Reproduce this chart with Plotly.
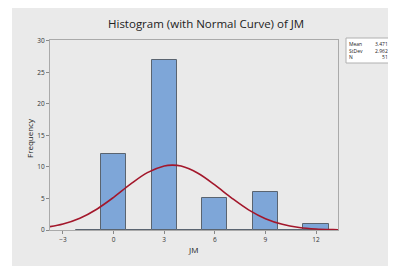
import plotly.graph_objects as go

# Histogram bins (midpoints, width 1.5) and counts
bin_mid = [-1.5, 0, 1.5, 3, 4.5, 6, 7.5, 9, 10.5, 12]
counts = [0, 12, 0, 27, 0, 5, 0, 6, 0, 1]
bin_width = 1.5

# Fitted normal curve
curve_x = [-3.8, -3, -2, -1, 0, 1, 2, 3, 3.5, 4, 5, 6, 7, 8, 9, 10, 11, 12, 13, 13.4]
curve_y = [0.52, 0.95, 1.87, 3.30, 5.18, 7.27, 9.10, 10.17, 10.30, 10.14, 9.01, 7.15,
           5.07, 3.20, 1.80, 0.91, 0.41, 0.16, 0.06, 0.04]

stats_labels = ["Mean", "StDev", "N"]
stats_values = ["3.471", "2.962", "51"]

x_ticks = [-3, 0, 3, 6, 9, 12]
y_ticks = [0, 5, 10, 15, 20, 25, 30]

OFF = 8  # page body margin
W, H = 396 - OFF, 266 - OFF
ML, MT = 50 - OFF, 40 - OFF
PR, PB = 338 - OFF, 230 - OFF
MR, MB = W - PR, H - PB
pw, ph = W - ML - MR, H - MT - MB

def px(x):
    return (x - OFF - ML) / pw

def py(y):
    return (H - MB - (y - OFF)) / ph

FONT = "Open Sans"

fig = go.Figure()
fig.add_trace(go.Bar(
    x=bin_mid, y=counts, width=bin_width,
    marker=dict(color="#7ea6d8", line=dict(color="#5a6470", width=1)),
    hoverinfo="skip",
))
fig.add_trace(go.Scatter(
    x=curve_x, y=curve_y, mode="lines",
    line=dict(color="#a3172b", width=1.6, shape="spline"),
    hoverinfo="skip",
))

shapes = [
    dict(type="rect", xref="paper", yref="paper",
         x0=px(12), x1=px(400), y0=py(270), y1=py(8),
         fillcolor="#eaeaea", line=dict(width=0), layer="below"),
    dict(type="rect", xref="paper", yref="paper",
         x0=px(346), x1=px(391), y0=py(63), y1=py(38),
         fillcolor="white", line=dict(color="#b0b0b0", width=1)),
]

def ann(text, x, y, size, xanchor="center", **kw):
    return dict(text=text, xref="paper", yref="paper", x=px(x), y=py(y),
                xanchor=xanchor, yanchor="middle", showarrow=False,
                font=dict(family=FONT, size=size, color="#222"), **kw)

annotations = [
    ann("Histogram (with Normal Curve) of JM", 206, 24, 11.5),
    ann("JM", 193, 250, 8),
    ann("Frequency", 29, 138, 8, textangle=-90),
    ann("<br>".join(stats_labels), 348, 51, 5, xanchor="left", align="left", borderpad=0),
    ann("<br>".join(stats_values), 389, 51, 5, xanchor="right", align="right", borderpad=0),
]

axis_common = dict(ticks="outside", ticklen=3, tickcolor="#888", showgrid=False,
                   zeroline=False, showline=True, linecolor="#aaaaaa", mirror=True,
                   tickfont=dict(family=FONT, size=6.5, color="#333"))

fig.update_layout(
    width=W, height=H,
    margin=dict(l=ML, r=MR, t=MT, b=MB, pad=0),
    paper_bgcolor="white", plot_bgcolor="white",
    showlegend=False, bargap=0,
    shapes=shapes, annotations=annotations,
    xaxis=dict(range=[-3.77, 13.3], tickvals=x_ticks, **axis_common),
    yaxis=dict(range=[0, 30.15], tickvals=y_ticks, **axis_common),
)

fig.write_html("out.html")
